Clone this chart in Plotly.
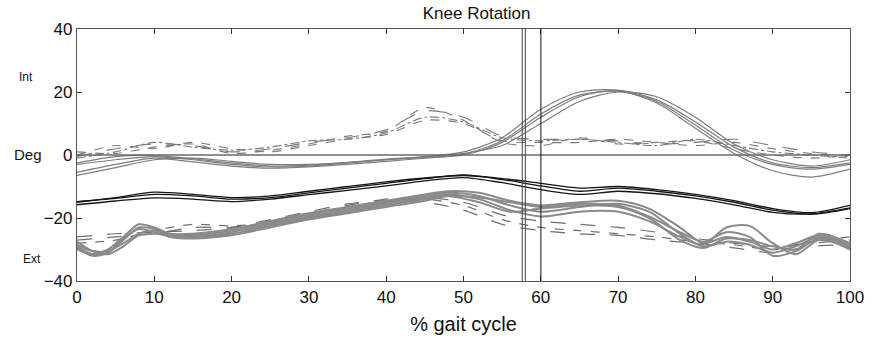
import plotly.graph_objects as go

# ---------------- data ----------------
x_main = [0, 5, 10, 15, 20, 25, 30, 35, 40, 45, 50, 55, 60, 65, 70, 75, 80, 85, 90, 95, 100]

# thin grey solid curves (rise to ~20 deg in swing)
rot_a = [-3.0, -1.5, -0.5, -1.5, -3.0, -3.8, -3.5, -2.5, -1.5, -0.8, 0.3, 4.5, 13, 19, 20.2, 17, 9.5, 1.5, -3, -4.5, -3]
rot_b = [-5.5, -3, -1, -2.2, -3.5, -4.2, -3.8, -3, -2, -1, 0, 4, 12, 18.5, 20.5, 17.5, 10.5, 2.5, -2.5, -4, -2.5]
rot_c = [-6.5, -4, -1.5, -1, -2, -3, -3, -2.5, -1.5, -0.5, 1, 5.5, 14.5, 20, 20.5, 16.5, 8.5, 0.5, -5, -7, -4.5]
rot_d = [-2.5, -0.5, -0.2, -1.2, -2.5, -3.5, -3.2, -2.3, -1.3, -0.6, 0.5, 3, 10, 17, 20, 18.5, 12, 3.5, -1.5, -3.5, -1.5]

# dashed grey curves near zero
dsh_e = [-0.5, 2, 3.5, 3, 1, 2, 4, 5.5, 8, 14, 12, 6, 5, 5, 4.5, 3.5, 4, 5, 3, 1, 0]
dsh_f = [0, 3, 2, 4, 2, 1, 3, 5, 6.5, 11, 10, 4.5, 4, 4, 5, 4, 3, 4, 2, 0.5, -0.5]
dsh_g = [-1, 1, 4, 2.5, 1.5, 2.5, 4.5, 5, 7, 12, 10.5, 5.5, 4.5, 5, 4, 3, 5, 3, 1, 0, -1]
dsh_h = [1, 0.5, 2.5, 3.5, 0.5, 1.5, 3.5, 6, 7.5, 15, 11, 4, 3, 5.5, 3.5, 4, 4.5, 2, 0, -1, 0]

# black curves
blk_i = [-15, -13.5, -11.8, -12.5, -13.5, -13, -11.5, -10, -8.5, -7.3, -6.5, -7.5, -9, -10.5, -10, -11, -12.5, -14.5, -17, -18.3, -16]
blk_j = [-15.8, -14.6, -13.6, -14, -14.8, -14, -12.6, -11.2, -9.8, -8.2, -7.2, -8.8, -11, -12.5, -11.5, -12.3, -13.8, -15.8, -18.2, -18.7, -16.8]
blk_k = [-14.8, -13.8, -12.5, -13, -14, -13.5, -12, -10.5, -9, -7.5, -6.3, -7.8, -9.8, -11.5, -10.5, -11.5, -13, -15, -17.5, -18.8, -17]

# lower dashed grey curves
low_m = [-27, -26, -25, -23, -23, -21, -18.5, -16, -14, -13.5, -15, -19, -21, -22, -23, -24.5, -26.5, -28, -29, -28, -27]
low_n = [-28, -27, -24, -22, -22.5, -21.5, -19, -16.5, -14.5, -14, -16, -20.5, -23, -24, -25, -26, -27.5, -28.5, -30, -27.5, -26]
low_o = [-26, -25, -24.5, -24, -23, -20.5, -18, -15.5, -14.5, -15, -17.5, -22, -24, -25, -25.5, -27, -28, -29.5, -31, -29, -28.5]

# thick grey curves
x_thick = [0, 2, 4, 6, 8, 10, 12, 15, 20, 25, 30, 35, 40, 45, 48, 52, 56, 60, 65, 70, 74, 78, 81, 84, 87, 90, 93, 96, 100]
thk_1 = [-29, -31.5, -31, -27, -23, -23.5, -25, -25, -23.5, -21, -18.5, -16.5, -14.5, -12.5, -11.5, -12, -14.5, -16, -15, -14.5, -17, -23, -28, -26, -27.5, -30, -28, -25.5, -28.5]
thk_2 = [-30, -31.5, -30, -26, -22, -23, -25, -25.5, -24, -21.5, -19, -17, -15, -13, -12, -13, -16, -18, -16.5, -15.5, -18, -25, -29, -27.5, -28.5, -31, -29, -26, -29]
thk_3 = [-28.5, -30.5, -30.5, -28, -25, -24, -25.5, -26, -24.5, -22, -19.5, -17.5, -15.5, -13.5, -12.5, -14, -17.5, -19.5, -18, -18, -21, -26, -28.5, -23, -22.5, -28, -31.5, -27, -29.5]
thk_4 = [-27.5, -30.5, -31.5, -29, -25.5, -25, -25.5, -26, -25, -22.5, -20, -18, -16, -14, -13, -15, -18, -17, -16, -16.5, -20, -27, -29.5, -26.5, -27, -29, -30, -25, -28]
thk_5 = [-29.5, -32, -31, -26.5, -23.5, -24.5, -26, -26.5, -25.5, -23, -20.5, -18.5, -16.5, -14.5, -13, -13.5, -15, -16.5, -15.5, -16, -19.5, -24.5, -27.5, -24.5, -26, -32, -30.5, -26.5, -30]

event_lines = [57.60, 58.00, 60.01]
x_ticks = [0, 10, 20, 30, 40, 50, 60, 70, 80, 90, 100]
y_ticks = [-40, -20, 0, 20, 40]

# ---------------- figure ----------------
fig = go.Figure()

def add(xs, ys, color, width, dash="solid"):
    fig.add_trace(go.Scatter(x=xs, y=ys, mode="lines",
                             line=dict(color=color, width=width, dash=dash, shape="spline", smoothing=0.8),
                             showlegend=False, hoverinfo="skip"))

for ys, d in zip([low_m, low_n, low_o], ["longdash", "dash", "longdash"]):
    add(x_main, ys, "#6e6e6e", 1.2, d)
for ys in [thk_1, thk_2, thk_3, thk_4, thk_5]:
    add(x_thick, ys, "#8a8a8a", 2.0)
for ys in [blk_i, blk_j, blk_k]:
    add(x_main, ys, "#151515", 1.3)
for ys, d in zip([dsh_e, dsh_f, dsh_g, dsh_h], ["longdash", "dash", "dashdot", "dash"]):
    add(x_main, ys, "#7a7a7a", 1.1, d)
for ys in [rot_a, rot_b, rot_c, rot_d]:
    add(x_main, ys, "#7d7d7d", 1.2)

# zero line
fig.add_shape(type="line", xref="x", yref="y", x0=0, x1=100, y0=0, y1=0,
              line=dict(color="#6a6a6a", width=1.3))
# event lines
for xv, c in zip(event_lines, ["#444444", "#444444", "#111111"]):
    fig.add_shape(type="line", xref="x", yref="y", x0=xv, x1=xv, y0=-40, y1=40,
                  line=dict(color=c, width=1))

font_family = "Liberation Sans, Arial, sans-serif"
fig.update_layout(
    width=876, height=344,
    margin=dict(l=77, r=20, t=29, b=62),
    paper_bgcolor="white", plot_bgcolor="white",
    font=dict(family=font_family, color="#111111"),
    title=dict(text="Knee Rotation", x=0.517, xref="paper", xanchor="center",
               y=0.962, yref="container", yanchor="middle",
               font=dict(size=17, family=font_family, color="#111111")),
    xaxis=dict(range=[0, 100], tickvals=x_ticks, ticks="inside", ticklen=5,
               tickcolor="#333333", showline=True, linecolor="#555555", linewidth=1.2,
               mirror="ticks", showgrid=False, zeroline=False,
               tickfont=dict(size=17, family=font_family, color="#111111"),
               title=dict(text="% gait cycle", standoff=11,
                          font=dict(size=20, family=font_family, color="#111111"))),
    yaxis=dict(range=[-40, 40], tickvals=y_ticks, ticks="inside", ticklen=5,
               tickcolor="#333333", showline=True, linecolor="#555555", linewidth=1.2,
               mirror="ticks", showgrid=False, zeroline=False,
               tickfont=dict(size=17, family=font_family, color="#111111")),
)

for txt, yp, sz, xp in [("Int", 0.81, 12, -0.066), ("Deg", 0.502, 15, -0.063), ("Ext", 0.087, 12, -0.058)]:
    fig.add_annotation(text=txt, xref="paper", yref="paper", x=xp, y=yp,
                       xanchor="center", yanchor="middle", showarrow=False,
                       font=dict(size=sz, family=font_family, color="#111111"))

fig.write_html("out.html")
